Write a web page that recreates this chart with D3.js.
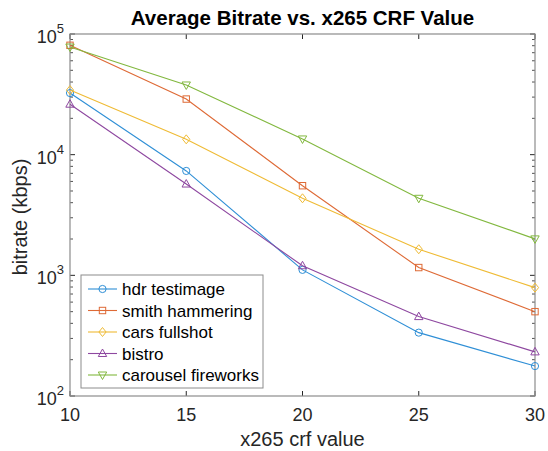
<!DOCTYPE html>
<html><head><meta charset="utf-8">
<script src="https://cdn.jsdelivr.net/npm/d3@7"></script>
<style>body{margin:0;background:#fff}svg{display:block;font-family:"Liberation Sans",Arial,sans-serif}</style>
</head><body><svg id="c" width="548" height="451"></svg>
<script>
const crf = [10, 15, 20, 25, 30];
const seriesNames = ["hdr testimage", "smith hammering", "cars fullshot", "bistro", "carousel fireworks"];
const hdr = [32400, 7330, 1110, 335, 177];
const smith = [80600, 28900, 5530, 1160, 500];
const cars = [34300, 13400, 4350, 1645, 791];
const bistro = [26200, 5710, 1200, 455, 232];
const carousel = [78000, 37800, 13500, 4350, 2005];
const xTicks = [10, 15, 20, 25, 30];
const yTickExps = [2, 3, 4, 5];
const colors = ["#2f8fd6", "#de6a36", "#efbb35", "#8e48a0", "#82b83f"];
const markers = ["circle", "square", "diamond", "up", "down"];
const allSeries = [hdr, smith, cars, bistro, carousel];

const svg = d3.select("#c");
const L = 70, R = 535, T = 34, B = 396;
const x = d3.scaleLinear().domain([10, 30]).range([L, R]);
const y = d3.scaleLog().domain([100, 100000]).range([B, T]);
const axCol = "#262626";
const boxCol = "#8c8c8c";

// ticks
const g = svg.append("g");
const minors = [];
for (let e = 2; e < 5; e++) for (let m = 2; m <= 9; m++) minors.push(m * Math.pow(10, e));
minors.forEach(v => {
  g.append("line").attr("x1", L).attr("x2", L + 3).attr("y1", y(v)).attr("y2", y(v)).attr("stroke", axCol).attr("stroke-width", 0.8);
  g.append("line").attr("x1", R).attr("x2", R - 3).attr("y1", y(v)).attr("y2", y(v)).attr("stroke", axCol).attr("stroke-width", 0.8);
});
yTickExps.forEach(e => {
  const v = Math.pow(10, e);
  g.append("line").attr("x1", L).attr("x2", L + 5).attr("y1", y(v)).attr("y2", y(v)).attr("stroke", axCol);
  g.append("line").attr("x1", R).attr("x2", R - 5).attr("y1", y(v)).attr("y2", y(v)).attr("stroke", axCol);
  const t = g.append("text").attr("x", L - 6).attr("y", y(v) + 9).attr("text-anchor", "end").attr("fill", axCol).attr("font-size", 18);
  t.append("tspan").text("10");
  t.append("tspan").attr("dy", -10).attr("font-size", 13).text(e);
});
xTicks.forEach(v => {
  g.append("line").attr("x1", x(v)).attr("x2", x(v)).attr("y1", B).attr("y2", B - 5).attr("stroke", axCol);
  g.append("line").attr("x1", x(v)).attr("x2", x(v)).attr("y1", T).attr("y2", T + 5).attr("stroke", axCol);
  g.append("text").attr("x", x(v)).attr("y", B + 25).attr("text-anchor", "middle").attr("fill", axCol).attr("font-size", 18).text(v);
});
svg.append("rect").attr("x", L).attr("y", T).attr("width", R - L).attr("height", B - T).attr("fill", "none").attr("stroke", boxCol).attr("stroke-width", 1.2);

// markers
function drawMarker(sel, type, cx, cy, col) {
  const s = 3.6;
  if (type === "circle") sel.append("circle").attr("cx", cx).attr("cy", cy).attr("r", s).attr("fill", "none").attr("stroke", col);
  else if (type === "square") sel.append("rect").attr("x", cx - 3.2).attr("y", cy - 3.2).attr("width", 6.4).attr("height", 6.4).attr("fill", "none").attr("stroke", col);
  else if (type === "diamond") sel.append("path").attr("d", `M${cx},${cy - 4.5}L${cx + 3.6},${cy}L${cx},${cy + 4.5}L${cx - 3.6},${cy}Z`).attr("fill", "none").attr("stroke", col);
  else if (type === "up") sel.append("path").attr("d", `M${cx},${cy - 4.5}L${cx + 4.2},${cy + 3}L${cx - 4.2},${cy + 3}Z`).attr("fill", "none").attr("stroke", col);
  else sel.append("path").attr("d", `M${cx},${cy + 4.5}L${cx + 4.2},${cy - 3}L${cx - 4.2},${cy - 3}Z`).attr("fill", "none").attr("stroke", col);
}
const line = d3.line().x((d, i) => x(crf[i])).y(d => y(d));
allSeries.forEach((s, k) => {
  const gs = svg.append("g");
  gs.append("path").attr("d", line(s)).attr("fill", "none").attr("stroke", colors[k]).attr("stroke-width", 1.1);
  s.forEach((v, i) => drawMarker(gs, markers[k], x(crf[i]), y(v), colors[k]));
});

// title & labels
svg.append("text").attr("x", (L + R) / 2).attr("y", 25).attr("text-anchor", "middle").attr("font-weight", "bold").attr("font-size", 20.5).attr("fill", "#000").text("Average Bitrate vs. x265 CRF Value");
svg.append("text").attr("x", (L + R) / 2).attr("y", 446).attr("text-anchor", "middle").attr("font-size", 20).attr("fill", axCol).text("x265 crf value");
svg.append("text").attr("transform", `translate(27,${(T + B) / 2 + 2}) rotate(-90)`).attr("text-anchor", "middle").attr("font-size", 20).attr("fill", axCol).text("bitrate (kbps)");

// legend
const lg = svg.append("g");
lg.append("rect").attr("x", 81).attr("y", 275).attr("width", 182).attr("height", 113).attr("fill", "#fff").attr("stroke", boxCol).attr("stroke-width", 1);
seriesNames.forEach((n, k) => {
  const yy = 289 + k * 21.5;
  lg.append("line").attr("x1", 88).attr("x2", 117).attr("y1", yy).attr("y2", yy).attr("stroke", colors[k]).attr("stroke-width", 1.1);
  drawMarker(lg, markers[k], 102.5, yy, colors[k]);
  lg.append("text").attr("x", 122).attr("y", yy + 6).attr("font-size", 17).attr("fill", "#000").text(n);
});
</script></body></html>
